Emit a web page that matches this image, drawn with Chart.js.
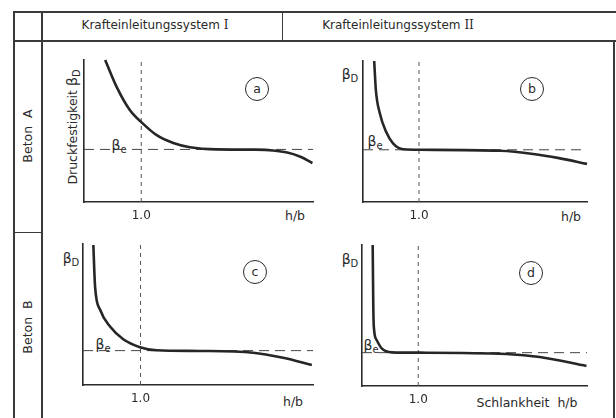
<!DOCTYPE html>
<html><head><meta charset="utf-8">
<script src="https://cdn.jsdelivr.net/npm/chart.js@4"></script>
<style>
html,body{margin:0;padding:0;background:#fff;}
#root{position:relative;width:616px;height:418px;overflow:hidden;background:#fff;font-family:"DejaVu Sans",sans-serif;color:#2a2a2a;}
.ln{position:absolute;background:#3a3a3a;}
.lab{position:absolute;transform:translate(-50%,-50%);white-space:nowrap;font-size:12px;line-height:1;}
.rot{transform:translate(-50%,-50%) rotate(-90deg);}
.circ{position:absolute;width:22px;height:22px;border:1.4px solid #2a2a2a;border-radius:50%;transform:translate(-50%,-50%);font-size:12.5px;text-align:center;line-height:21px;}
.pan{position:absolute;}
.b{font-size:14px;}
.sub{font-size:10px;position:relative;top:3px;}
.rn{font-family:"DejaVu Serif",serif;}
</style></head><body><div id="root"></div>
<script>
// ---- data ----
const xMin = 0, xMax = 4;
const xTickValues = [1.0];
const xTickLabels = ['1.0'];
const betaE = 1.0;
const yMaxA = 2.7, yMaxB = 2.7, yMaxC = 4.1, yMaxD = 4.23;
const curveA_x = [0.37, 0.57, 0.80, 1.02, 1.27, 1.56, 1.85, 2.32, 3.00, 3.30, 3.55, 3.78, 3.99];
const curveA_y = [2.70, 2.19, 1.75, 1.50, 1.27, 1.12, 1.04, 1.00, 0.995, 0.98, 0.94, 0.86, 0.74];
const curveB_x = [0.20, 0.23, 0.30, 0.41, 0.54, 0.72, 1.02, 2.45, 3.04, 3.50, 4.00];
const curveB_y = [2.70, 2.14, 1.70, 1.35, 1.12, 1.01, 1.00, 0.98, 0.92, 0.84, 0.73];
const curveC_x = [0.18, 0.21, 0.30, 0.47, 0.70, 0.99, 1.28, 2.03, 2.96, 3.48, 3.98];
const curveC_y = [4.07, 2.86, 2.18, 1.70, 1.33, 1.10, 1.01, 0.99, 0.94, 0.79, 0.58];
const curveD_x = [0.19, 0.20, 0.21, 0.26, 0.35, 0.53, 1.03, 2.57, 3.16, 3.99];
const curveD_y = [4.23, 2.48, 1.78, 1.38, 1.13, 1.01, 1.00, 0.96, 0.87, 0.60];

const root = document.getElementById('root');
function line(x, y, w, h){ const d=document.createElement('div'); d.className='ln'; Object.assign(d.style,{left:x+'px',top:y+'px',width:w+'px',height:h+'px'}); root.appendChild(d); }
function lab(html, x, y, cls, size){ const d=document.createElement('div'); d.className='lab'+(cls?' '+cls:''); d.innerHTML=html; d.style.left=x+'px'; d.style.top=y+'px'; if(size) d.style.fontSize=size+'px'; root.appendChild(d); }
function circ(t, x, y){ const d=document.createElement('div'); d.className='circ'; d.textContent=t; d.style.left=x+'px'; d.style.top=y+'px'; root.appendChild(d); }

// frame
line(13, 11, 603, 1.5);
line(13, 40, 603, 1.5);
line(13, 11, 1.5, 407);
line(41, 11, 1.5, 407);
line(282, 11, 1.2, 29);
line(13, 232, 29, 1.2);
line(613, 40, 2, 378);

// header / row labels
lab('Krafteinleitungssystem <span class="rn">I</span>', 155, 25);
lab('Krafteinleitungssystem <span class="rn">II</span>', 398, 25);
lab('Beton&nbsp;&nbsp;A', 28, 136, 'rot', 12.5);
lab('Beton&nbsp;&nbsp;B', 28, 327, 'rot', 12.5);

const BD = '<span class="b">β</span><span class="sub">D</span>';
const BE = '<span class="b">β</span><span class="sub">e</span>';
lab('Druckfestigkeit ' + BD, 72, 127, 'rot', 12.5);
lab(BD, 350, 74); lab(BD, 71, 258); lab(BD, 350, 259);
lab(BE, 119, 145); lab(BE, 375, 141); lab(BE, 103, 344); lab(BE, 371, 345);
circ('a', 257, 89); circ('b', 532, 89); circ('c', 255, 272); circ('d', 531, 273);
lab('h/b', 295, 216, '', 12.5); lab('h/b', 571, 217, '', 12.5); lab('h/b', 293, 402, '', 12.5);
lab('Schlankheit&nbsp;&nbsp;h/b', 527, 403, '', 12.5);

function pts(xs, ys){ return xs.map((x,i)=>({x:x, y:ys[i]})); }

function panel(box, xs, ys, yMax){
  const P = 6, XH = 24;
  const w = box.r - box.l + 2*P, h = box.b - box.t + P + XH;
  const div = document.createElement('div'); div.className='pan';
  Object.assign(div.style,{left:(box.l-P)+'px', top:(box.t-P)+'px', width:w+'px', height:h+'px'});
  const cv = document.createElement('canvas'); cv.width=w; cv.height=h; cv.style.width=w+'px'; cv.style.height=h+'px';
  div.appendChild(cv); root.appendChild(div);
  new Chart(cv, {
    type:'scatter',
    data:{datasets:[
      {data:pts(xs, ys), showLine:true, borderColor:'#262626', borderWidth:2.6, pointRadius:0, cubicInterpolationMode:'monotone', clip:8},
      {data:[{x:xMin,y:betaE},{x:xMax,y:betaE}], showLine:true, borderColor:'#444', borderWidth:1, borderDash:[10,6], pointRadius:0, clip:8},
      {data:[{x:xTickValues[0],y:0},{x:xTickValues[0],y:yMax}], showLine:true, borderColor:'#555', borderWidth:1, borderDash:[4,4], pointRadius:0, clip:8}
    ]},
    options:{
      animation:false, responsive:false, maintainAspectRatio:false, devicePixelRatio:1,
      layout:{padding:{left:P, top:P, right:P, bottom:0}},
      plugins:{legend:{display:false}, tooltip:{enabled:false}},
      scales:{
        x:{type:'linear', min:xMin, max:xMax,
           grid:{display:false, drawTicks:false},
           border:{display:true, color:'#2a2a2a', width:1.6},
           afterBuildTicks:s=>{ s.ticks = xTickValues.map(v=>({value:v})); },
           ticks:{callback:v=>xTickLabels[xTickValues.indexOf(v)], color:'#2a2a2a', font:{family:'DejaVu Sans', size:12}, padding:7, autoSkip:false, maxRotation:0},
           afterFit:s=>{ s.height = XH; }},
        y:{type:'linear', min:0, max:yMax,
           grid:{display:false, drawTicks:false},
           border:{display:true, color:'#2a2a2a', width:1.6},
           ticks:{display:false},
           afterFit:s=>{ s.width = 0; }}
      }
    }
  });
}

panel({l:84, t:60, r:313, b:202}, curveA_x, curveA_y, yMaxA);
panel({l:363, t:61, r:587, b:202}, curveB_x, curveB_y, yMaxB);
panel({l:83, t:244, r:313, b:385}, curveC_x, curveC_y, yMaxC);
panel({l:362, t:245, r:587, b:386}, curveD_x, curveD_y, yMaxD);
</script>
</body></html>
